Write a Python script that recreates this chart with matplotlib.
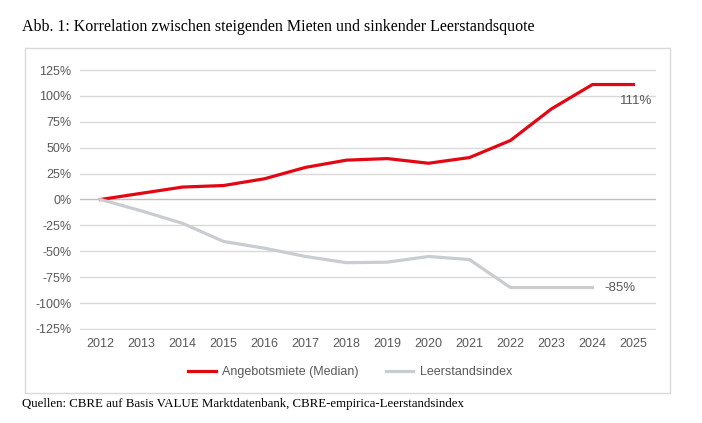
import matplotlib
matplotlib.use("Agg")
import matplotlib.pyplot as plt
from matplotlib.patches import Rectangle
from matplotlib.ticker import FuncFormatter

# Daten
jahre = list(range(2012, 2026))
miete = [0, 6, 12, 13.5, 20, 31, 38, 39.5, 35, 40.5, 57, 87.5, 111, 111]
jahre_leer = list(range(2012, 2025))
leerstand = [0, -11, -23, -40.5, -47, -55, -61, -60.5, -55, -58, -85, -85, -85]
y_ticks = list(range(-125, 126, 25))

W, H = 702, 423
fig = plt.figure(figsize=(W / 100, H / 100), dpi=100)
sans = ["Liberation Sans", "DejaVu Sans"]
serif = ["Liberation Serif", "DejaVu Serif"]
grau = "#595959"

# Rahmen um das Diagramm
fig.patches.append(Rectangle((25 / W, 1 - 393 / H), 645 / W, 345 / H,
                             transform=fig.transFigure, fill=False,
                             edgecolor="#d9d9d9", linewidth=1))

ax = fig.add_axes([80 / W, 1 - 330 / H, 576 / W, 261 / H])
for y in y_ticks:
    ax.axhline(y, color="#bfbfbf" if y == 0 else "#d9d9d9", linewidth=1, zorder=0)

ax.plot(jahre, miete, color="#e30613", linewidth=2.3, label="Angebotsmiete (Median)")
ax.plot(jahre_leer, leerstand, color="#c9cdd1", linewidth=2.3, label="Leerstandsindex")

ax.set_xlim(2011.5, 2025.55)
ax.set_ylim(-126, 126)
ax.set_yticks(y_ticks)
ax.yaxis.set_major_formatter(FuncFormatter(lambda v, p: f"{int(v)}%"))
ax.set_xticks(jahre)
for s in ax.spines.values():
    s.set_visible(False)
ax.tick_params(length=0, labelsize=9, colors=grau, pad=6)
for lab in ax.get_xticklabels() + ax.get_yticklabels():
    lab.set_family(sans)

ax.text(2025.45, miete[-1] - 16, f"{miete[-1]}%", ha="right", va="center",
        fontsize=9.5, color=grau, family=sans)
ax.text(2024.3, leerstand[-1], f"{leerstand[-1]}%", ha="left", va="center",
        fontsize=9.5, color=grau, family=sans)

fig.legend(loc="center", bbox_to_anchor=(350 / W, 1 - 372 / H), ncol=2,
           frameon=False, prop={"family": sans, "size": 9}, labelcolor=grau,
           handlelength=2.2, columnspacing=2.2, handletextpad=0.5)

fig.text(22 / W, 1 - 27 / H,
         "Abb. 1: Korrelation zwischen steigenden Mieten und sinkender Leerstandsquote",
         ha="left", va="center", fontsize=11.5, family=serif)
fig.text(22 / W, 1 - 404 / H,
         "Quellen: CBRE auf Basis VALUE Marktdatenbank, CBRE-empirica-Leerstandsindex",
         ha="left", va="center", fontsize=9.3, family=serif)

fig.savefig("out.png", dpi=100)
